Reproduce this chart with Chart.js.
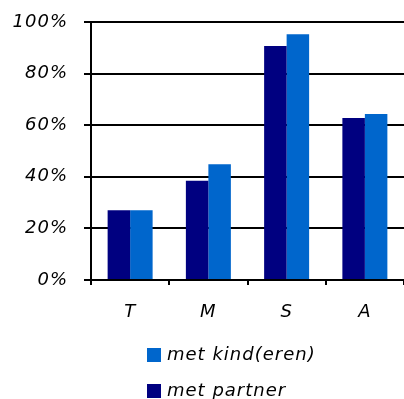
<!DOCTYPE html>
<html>
<head>
<meta charset="utf-8">
<script src="https://cdn.jsdelivr.net/npm/chart.js@4/dist/chart.umd.min.js"></script>
<style>
  html, body { margin: 0; padding: 0; background: #fff; }
  #wrap { width: 404px; height: 399px; }
</style>
</head>
<body>
<div id="wrap"><canvas id="myChartCanvas"></canvas></div>
<script>
var categories = ['T', 'M', 'S', 'A'];
var metPartner = [27, 38.5, 90.7, 62.8];
var metKind = [27, 44.9, 95.3, 64.3];
var yTicks = [0, 20, 40, 60, 80, 100];

var font = { family: 'DejaVu Sans', size: 18, style: 'italic' };

// kleine letterafstand zoals in het origineel
var spacing = {
    id: 'spacing',
    beforeUpdate: function (chart) { chart.ctx.letterSpacing = '1px'; },
    beforeDraw: function (chart) { chart.ctx.letterSpacing = '1px'; }
};

// legenda onder elkaar, omgekeerde volgorde
var stackedLegend = {
    id: 'stackedLegend',
    afterDraw: function (chart) {
        var ctx = chart.ctx;
        var sets = chart.data.datasets.slice().reverse();
        ctx.save();
        ctx.font = 'italic 18px "DejaVu Sans"';
        ctx.textBaseline = 'middle';
        ctx.textAlign = 'left';
        sets.forEach(function (ds, i) {
            var top = 348 + i * 36;
            ctx.fillStyle = ds.backgroundColor;
            ctx.fillRect(147, top, 14, 14);
            ctx.fillStyle = '#000';
            ctx.fillText(ds.label, 167, top + 7);
        });
        ctx.restore();
    }
};

var ctx = document.getElementById('myChartCanvas').getContext('2d');

var myChart = new Chart(ctx, {
    type: 'bar',
    data: {
        labels: categories,
        datasets: [{
            label: 'met partner',
            data: metPartner,
            backgroundColor: '#000080'
        }, {
            label: 'met kind(eren)',
            data: metKind,
            backgroundColor: '#0066CC'
        }]
    },
    options: {
        responsive: true,
        maintainAspectRatio: false,
        animation: false,
        layout: { padding: { top: 22, right: 0, bottom: 80, left: 0 } },
        datasets: {
            bar: { categoryPercentage: 0.575, barPercentage: 1 }
        },
        plugins: {
            legend: { display: false },
            tooltip: { enabled: false }
        },
        scales: {
            x: {
                grid: {
                    display: true,
                    drawOnChartArea: false,
                    color: '#000',
                    lineWidth: 2,
                    tickLength: 5,
                    offset: true
                },
                border: { color: '#000', width: 2 },
                ticks: { color: '#000', font: font, padding: 17, maxRotation: 0 },
                afterFit: function (scale) {
                    scale.height = 39;
                    scale.paddingLeft = 0;
                    scale.paddingRight = 0;
                }
            },
            y: {
                min: 0,
                max: 100,
                afterBuildTicks: function (scale) {
                    scale.ticks = yTicks.map(function (v) { return { value: v }; });
                },
                grid: { color: '#000', lineWidth: 2, tickLength: 7 },
                border: { color: '#000', width: 2 },
                ticks: {
                    color: '#000',
                    font: font,
                    padding: 16,
                    callback: function (v) { return v + '%'; }
                },
                afterFit: function (scale) {
                    scale.width = 91;
                    scale.paddingTop = 0;
                    scale.paddingBottom = 0;
                }
            }
        }
    },
    plugins: [spacing, stackedLegend]
});
</script>
</body>
</html>
